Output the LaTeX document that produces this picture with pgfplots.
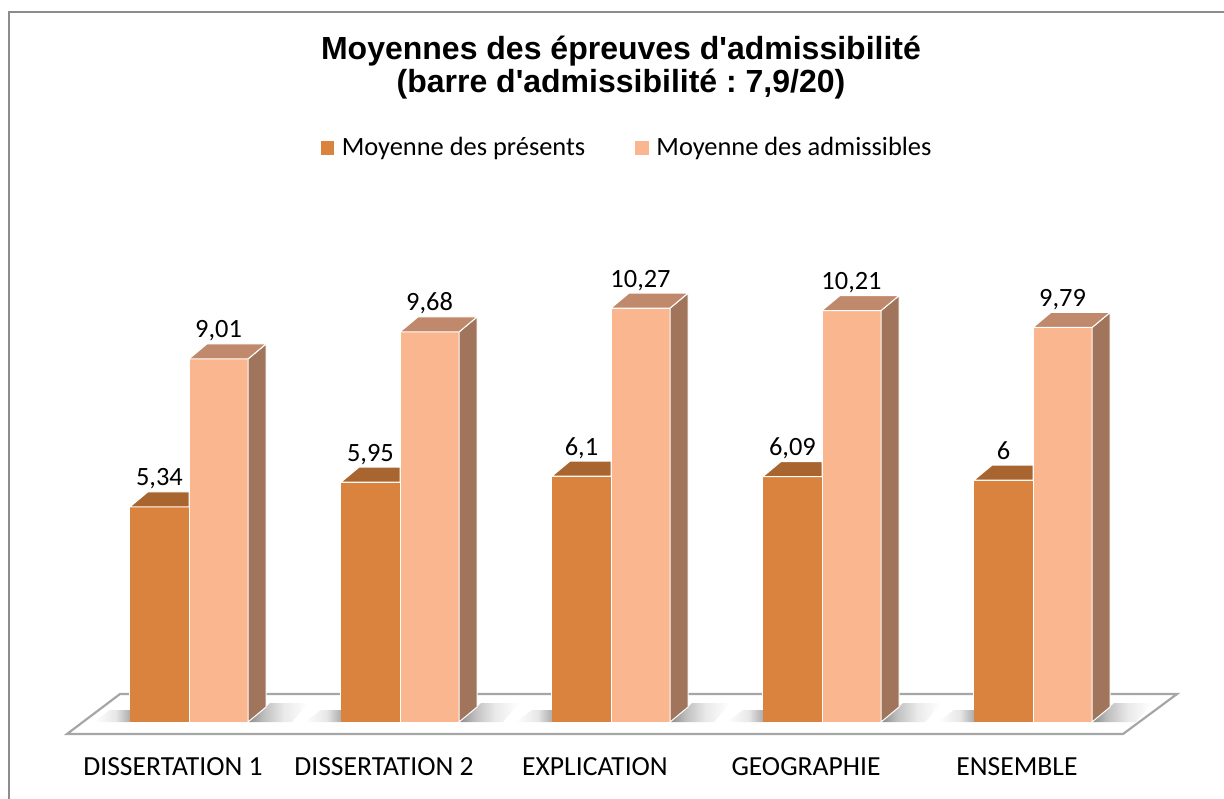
\documentclass[border=0pt]{standalone}
\usepackage{pgfplots}
\usepackage{pgfplotstable}
\pgfplotsset{compat=1.18}
\usepackage{fontspec}
\setmainfont{Carlito}
\newfontfamily\titlefont{Liberation Sans}
\frenchspacing
\definecolor{presF}{HTML}{DA833F}
\definecolor{presT}{HTML}{A9652F}
\definecolor{admF}{HTML}{FAB68E}
\definecolor{admT}{HTML}{C0896C}
\definecolor{admS}{HTML}{A0755B}
\definecolor{floorC}{HTML}{A6A6A6}
\definecolor{borderC}{HTML}{8C8C8C}
\definecolor{shadowC}{HTML}{8A8A8A}

\pgfplotstableread{
cat pres adm
0 5.34 9.01
1 5.95 9.68
2 6.1 10.27
3 6.09 10.21
4 6 9.79
}\data

% the inner part (25bp..75bp) of a shading is fitted to the path
\pgfdeclarehorizontalshading{shadeR}{100bp}{color(0bp)=(shadowC); color(25bp)=(shadowC); color(38bp)=(shadowC!55!white); color(55bp)=(shadowC!18!white); color(75bp)=(white); color(100bp)=(white)}
\pgfdeclarehorizontalshading{shadeL}{100bp}{color(0bp)=(white); color(25bp)=(white); color(55bp)=(shadowC!20!white); color(75bp)=(shadowC!70!white); color(100bp)=(shadowC!70!white)}

% top face of the front (darker) bar, with the soft shadow at its foot
\pgfdeclareplotmark{prestop}{%
  \pgfpathmoveto{\pgfpoint{-32.77pt}{-\yv*20.15pt}}%
  \pgfpathlineto{\pgfpoint{-14.77pt}{-\yv*20.15pt}}%
  \pgfpathlineto{\pgfpoint{-14.77pt}{6pt-\yv*20.15pt}}%
  \pgfpathlineto{\pgfpoint{-24.77pt}{6pt-\yv*20.15pt}}%
  \pgfpathclose
  \pgfshadepath{shadeL}{0}\pgfusepath{discard}%
  \pgfsetlinewidth{0.5pt}\pgfsetstrokecolor{white}%
  \pgfsetfillcolor{presT}%
  \pgfpathmoveto{\pgfqpoint{-14.77pt}{0pt}}%
  \pgfpathlineto{\pgfqpoint{14.77pt}{0pt}}%
  \pgfpathlineto{\pgfqpoint{14.77pt}{7.5pt}}%
  \pgfpathlineto{\pgfqpoint{-5.77pt}{7.5pt}}%
  \pgfpathclose
  \pgfusepath{fill,stroke}%
}
% side and top faces of the back (lighter) bar, with the soft shadow at its foot
\pgfdeclareplotmark{admfaces}{%
  \pgfpathmoveto{\pgfpoint{14.77pt}{-\yv*20.15pt}}%
  \pgfpathlineto{\pgfpoint{23.77pt}{7.5pt-\yv*20.15pt}}%
  \pgfpathlineto{\pgfpoint{25.77pt}{9.5pt-\yv*20.15pt}}%
  \pgfpathlineto{\pgfpoint{44.77pt}{9.5pt-\yv*20.15pt}}%
  \pgfpathlineto{\pgfpoint{36.77pt}{-\yv*20.15pt}}%
  \pgfpathclose
  \pgfshadepath{shadeR}{0}\pgfusepath{discard}%
  \pgfsetlinewidth{0.5pt}\pgfsetstrokecolor{white}%
  \pgfsetfillcolor{admS}%
  \pgfpathmoveto{\pgfqpoint{14.77pt}{0pt}}%
  \pgfpathlineto{\pgfqpoint{23.77pt}{7.5pt}}%
  \pgfpathlineto{\pgfpoint{23.77pt}{7.5pt-\yv*20.15pt}}%
  \pgfpathlineto{\pgfpoint{14.77pt}{-\yv*20.15pt}}%
  \pgfpathclose
  \pgfusepath{fill,stroke}%
  \pgfsetfillcolor{admT}%
  \pgfpathmoveto{\pgfqpoint{-14.77pt}{0pt}}%
  \pgfpathlineto{\pgfqpoint{14.77pt}{0pt}}%
  \pgfpathlineto{\pgfqpoint{23.77pt}{7.5pt}}%
  \pgfpathlineto{\pgfqpoint{-5.77pt}{7.5pt}}%
  \pgfpathclose
  \pgfusepath{fill,stroke}%
}

\begin{document}
\begin{tikzpicture}
% chart frame (only top and left edges are visible in the crop)
\draw[borderC, line width=1pt] (-90pt,-40pt) -- (-90pt,355pt) -- (520pt,355pt);
% floor
\draw[floorC, line width=1.1pt, fill=white] (-61pt,-6pt) -- (467pt,-6pt) -- (494pt,14pt) -- (-34.5pt,14pt) -- cycle;

\begin{axis}[
  at={(0,0)}, anchor=origin,
  x=105.5pt, y=20.15pt,
  xmin=-0.8, xmax=4.8, ymin=0, ymax=15,
  clip=false,
  axis line style={draw=none},
  tick style={draw=none},
  major tick length=0pt,
  ytick=\empty,
  xtick={0,1,2,3,4},
  xticklabels={DISSERTATION 1, DISSERTATION 2, EXPLICATION, GEOGRAPHIE, ENSEMBLE},
  xticklabel style={anchor=base, yshift=-26.5pt, xshift=-8pt, inner sep=0pt,
    font=\fontsize{13.8}{16}\selectfont},
  legend columns=2,
  legend style={draw=none, fill=none, at={(0.514,0.9495)}, anchor=center,
    font=\fontsize{13.2}{15}\selectfont,
    nodes={inner xsep=1.5pt, inner ysep=1pt},
    /tikz/every even column/.append style={column sep=23.5pt}},
]
\addplot[ybar, bar width=0.28, bar shift=0pt, fill=presF, draw=white, line width=0.5pt,
  legend image code/.code={\fill[presF] (0pt,-3.15pt) rectangle (6.3pt,3.15pt); \path (8.6pt,0pt);}]
  table[x expr=\thisrow{cat}-0.14, y=pres] {\data};
\addlegendentry{Moyenne des présents}
\addplot[only marks, mark=prestop, forget plot,
  visualization depends on={rawy \as \yv},
  nodes near coords,
  every node near coord/.style={anchor=base, yshift=10.5pt, inner sep=0pt, text=black,
    font=\fontsize{13.2}{15}\selectfont},
  /pgf/number format/.cd, use comma, assume math mode=true]
  table[x expr=\thisrow{cat}-0.14, y=pres] {\data};
\addplot[ybar, bar width=0.28, bar shift=0pt, fill=admF, draw=white, line width=0.5pt,
  legend image code/.code={\fill[admF] (0pt,-3.15pt) rectangle (6.3pt,3.15pt); \path (8.6pt,0pt);}]
  table[x expr=\thisrow{cat}+0.14, y=adm] {\data};
\addlegendentry{Moyenne des admissibles}
\addplot[only marks, mark=admfaces, forget plot,
  visualization depends on={rawy \as \yv},
  nodes near coords,
  every node near coord/.style={anchor=base, yshift=10.5pt, inner sep=0pt, text=black,
    font=\fontsize{13.2}{15}\selectfont},
  /pgf/number format/.cd, use comma, assume math mode=true]
  table[x expr=\thisrow{cat}+0.14, y=adm] {\data};
\end{axis}

\node[anchor=base, inner sep=0pt, font=\titlefont\bfseries\fontsize{16}{18}\selectfont]
  at (216pt,331pt) {Moyennes des épreuves d'admissibilité};
\node[anchor=base, inner sep=0pt, font=\titlefont\bfseries\fontsize{16}{18}\selectfont]
  at (216pt,314.5pt) {(barre d'admissibilité : 7,9/20)};

\pgfresetboundingbox
\path[use as bounding box] (-94.5pt,-38pt) rectangle (517.5pt,361pt);
\end{tikzpicture}
\end{document}
